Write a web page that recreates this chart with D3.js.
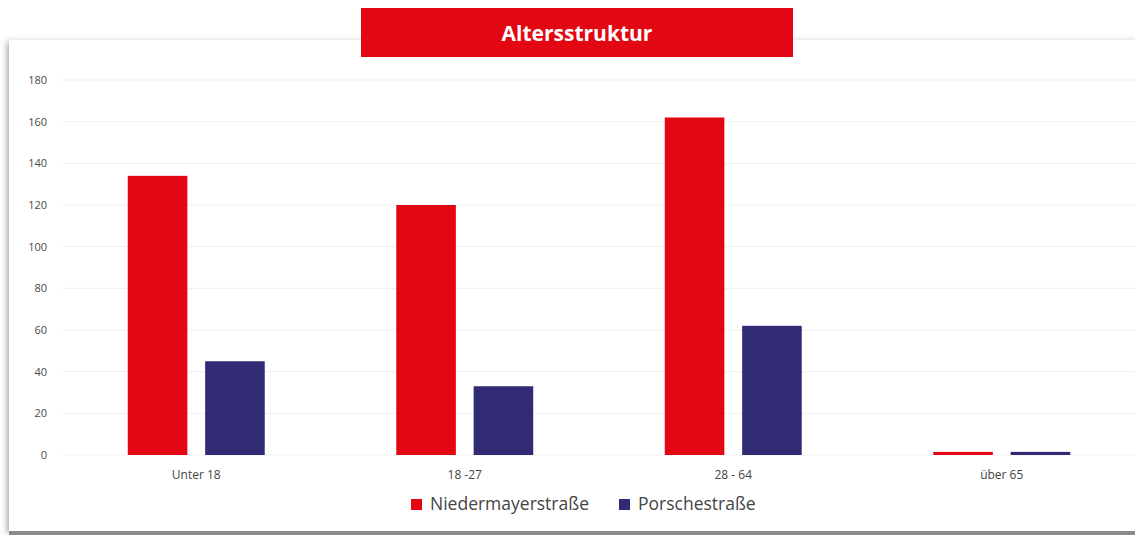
<!DOCTYPE html>
<html>
<head>
<meta charset="utf-8">
<script src="https://cdn.jsdelivr.net/npm/d3@7"></script>
<style>
  body { margin: 0; background: #fff; }
  svg { display: block; font-family: "Open Sans", "DejaVu Sans", sans-serif; }
</style>
</head>
<body>
<svg id="vis" width="1135" height="535"></svg>
<script>
// chart data
const CATEGORIES = ["Unter 18", "18 -27", "28 - 64", "über 65"];
const SERIES = ["Niedermayerstraße", "Porschestraße"];
const NIEDERMAYER = [134, 120, 162, 1.5];
const PORSCHE = [45, 33, 62, 1.5];
const Y_TICKS = [0, 20, 40, 60, 80, 100, 120, 140, 160, 180];
const COLOURS = ["#e30613", "#312a75"];
const TITLE = "Altersstruktur";

var svg = d3.select("#vis");
const W = 1135, H = 535;
const MARGINS = {top: 80, bottom: 80, left: 62, right: -1};

// card with shadow
var defs = svg.append("defs");
var f = defs.append("filter").attr("id", "shadow")
    .attr("x", "-5%").attr("y", "-5%").attr("width", "110%").attr("height", "110%");
f.append("feDropShadow").attr("dx", -2).attr("dy", 2).attr("stdDeviation", 3)
    .attr("flood-color", "#000").attr("flood-opacity", 0.35);

svg.append("rect")
    .attr("x", 9).attr("y", 40).attr("width", W + 20).attr("height", 491)
    .attr("fill", "#fff").attr("filter", "url(#shadow)");
svg.append("rect")
    .attr("x", 9).attr("y", 531).attr("width", W).attr("height", 4)
    .attr("fill", "#8a8a8a");

// scales
var x = d3.scaleBand().domain(CATEGORIES)
    .range([MARGINS.left, W - MARGINS.right]);
var xInner = d3.scaleBand().domain(SERIES)
    .range([0, x.bandwidth()]).paddingInner(0.23).paddingOuter(0.85);
var y = d3.scaleLinear().domain([0, 180]).range([455, 80]);

// grid
svg.append("g").selectAll("line").data(Y_TICKS).enter().append("line")
    .attr("x1", MARGINS.left).attr("x2", W)
    .attr("y1", d => y(d)).attr("y2", d => y(d))
    .attr("stroke", "#efefef").attr("stroke-width", 1);

// y axis labels
var yAxis = svg.append("g").attr("transform", `translate(${47},0)`)
    .call(d3.axisLeft(y).tickValues(Y_TICKS).tickSize(0).tickPadding(0));
yAxis.select(".domain").remove();
yAxis.selectAll("text").attr("fill", "#4a4a4a").style("font-size", "11px")
    .style("font-family", "\"Open Sans\", sans-serif");

// x axis labels
var xAxis = svg.append("g").attr("transform", `translate(0,${470})`)
    .call(d3.axisBottom(x).tickSize(0).tickPadding(0));
xAxis.select(".domain").remove();
xAxis.selectAll("text").attr("fill", "#444").style("font-size", "12px")
    .style("font-family", "\"Open Sans\", sans-serif");

// bars
var rows = CATEGORIES.map((c, i) => ({cat: c, vals: [NIEDERMAYER[i], PORSCHE[i]]}));
var groups = svg.selectAll("g.grp").data(rows).enter().append("g")
    .attr("class", "grp")
    .attr("transform", d => `translate(${x(d.cat)},0)`);
groups.selectAll("rect").data(d => d.vals.map((v, j) => ({key: SERIES[j], v: v, j: j})))
    .enter().append("rect")
    .attr("x", d => xInner(d.key))
    .attr("width", xInner.bandwidth())
    .attr("y", d => y(d.v))
    .attr("height", d => y(0) - y(d.v))
    .attr("fill", d => COLOURS[d.j]);

// legend
var legendX = [411, 619];
var legend = svg.selectAll("g.legend").data(SERIES).enter().append("g")
    .attr("class", "legend")
    .attr("transform", (d, i) => `translate(${legendX[i]},${499})`);
legend.append("rect").attr("width", 11).attr("height", 11)
    .attr("fill", (d, i) => COLOURS[i]);
legend.append("text").attr("x", 19).attr("y", 11)
    .attr("fill", "#444").style("font-size", "17.5px")
    .style("font-family", "\"Open Sans\", sans-serif")
    .text(d => d);

// title
svg.append("rect").attr("x", 361).attr("y", 8).attr("width", 432).attr("height", 49)
    .attr("fill", COLOURS[0]);
svg.append("text").attr("x", 577).attr("y", 41)
    .attr("text-anchor", "middle").attr("fill", "#fff")
    .style("font-size", "21px").style("font-weight", "bold")
    .style("font-family", "\"Open Sans\", sans-serif")
    .text(TITLE);
</script>
</body>
</html>
